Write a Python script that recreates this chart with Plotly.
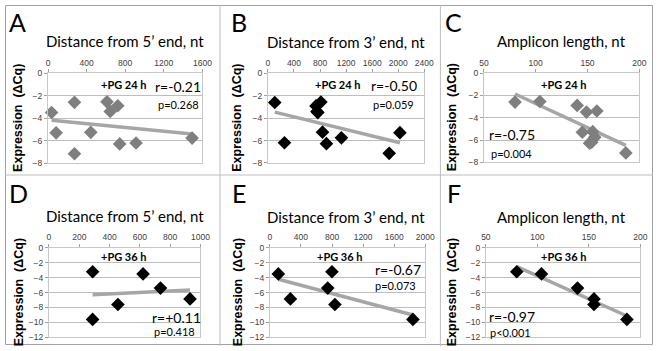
import numpy as np
import plotly.graph_objects as go

W, H = 663, 351

# ---- data ----
a_x = [37, 84, 274, 274, 443, 611, 645, 723, 743, 912, 1493]
a_y = [-3.5, -5.3, -2.6, -7.15, -5.25, -2.55, -3.4, -2.9, -6.28, -6.2, -5.76]
b_x = [105, 254, 738, 753, 765, 813, 838, 898, 1128, 1861, 2026]
b_y = [-2.6, -6.2, -2.9, -3.4, -3.5, -2.55, -5.25, -6.28, -5.76, -7.15, -5.3]
c_x = [80, 104, 140, 149, 159, 145, 152, 154, 157, 155, 187]
c_y = [-2.6, -2.55, -2.9, -3.5, -3.4, -5.3, -6.28, -6.2, -5.76, -5.25, -7.15]
d_x = [288, 288, 455, 621, 736, 931]
d_y = [-3.2, -9.6, -7.6, -3.5, -5.4, -6.85]
e_x = [109, 264, 745, 799, 837, 1841]
e_y = [-3.5, -6.85, -5.4, -3.2, -7.6, -9.6]
f_x = [80, 104, 139, 155, 155, 187]
f_y = [-3.2, -3.5, -5.4, -6.85, -7.6, -9.6]

letters = ["A", "B", "C", "D", "E", "F"]
titles = ["Distance from 5\u2019 end, nt", "Distance from 3\u2019 end, nt", "Amplicon length, nt",
          "Distance from 5\u2019 end, nt", "Distance from 3\u2019 end, nt", "Amplicon length, nt"]
groups = ["+PG 24 h", "+PG 24 h", "+PG 24 h", "+PG 36 h", "+PG 36 h", "+PG 36 h"]
r_text = ["r=-0.21", "r=-0.50", "r=-0.75", "r=+0.11", "r=-0.67", "r=-0.97"]
p_text = ["p=0.268", "p=0.059", "p=0.004", "p=0.418", "p=0.073", "p<0.001"]
x_ranges = [[0, 1600], [0, 2400], [50, 200], [0, 1000], [0, 2000], [50, 200]]
x_dticks = [400, 400, 50, 200, 400, 50]
y_ranges = [[-8, 0], [-8, 0], [-8, 0], [-12, 0], [-12, 0], [-12, 0]]
colors = ["#7f7f7f", "#000000", "#7f7f7f", "#000000", "#000000", "#000000"]

xs = [a_x, b_x, c_x, d_x, e_x, f_x]
ys = [a_y, b_y, c_y, d_y, e_y, f_y]

# ---- layout geometry (pixels) ----
plot_px = [  # x0, x1, y0(top), y1(bottom)
    (44, 202, 70, 163),
    (269, 429, 70.5, 162.5),
    (490, 649, 70, 162),
    (45, 200, 250, 342),
    (271, 430, 250, 342),
    (492, 650, 250, 342),
]
letter_pos = [(13, 17), (239, 17), (459, 17), (14, 193), (239, 193), (459, 193)]
title_pos = [(123, 37), (349, 38), (569, 37), (123, 217), (349, 218), (569, 218)]
ytitle_x = [13, 238, 457, 14, 238, 457]
group_pos = [(122, 82), (341, 82), (572, 82), (122, 259), (343, 259), (572, 259)]
r_pos = [(177, 84), (398, 83), (519, 133), (175, 322), (402, 272), (519, 321)]
p_pos = [(178, 102), (397, 102), (518, 153), (173, 336), (400, 289), (517, 337)]


def px(x):
    return x / W


def py(y):
    return 1 - y / H


fig = go.Figure()
layout = dict(width=W, height=H, margin=dict(l=0, r=0, t=0, b=0),
              paper_bgcolor="white", plot_bgcolor="white", showlegend=False)
annotations = []
TITLE_FONT = "Lato"
TICK_FONT = "Liberation Sans"


def ann(text, x, y, size, family=TITLE_FONT, angle=0, color="#000"):
    annotations.append(dict(text=text, x=px(x), y=py(y), xref="paper", yref="paper",
                            showarrow=False, textangle=angle,
                            font=dict(family=family, size=size, color=color),
                            xanchor="center", yanchor="middle"))


for i in range(6):
    n = "" if i == 0 else str(i + 1)
    xa, ya = "x" + n, "y" + n
    x0, x1, y0, y1 = plot_px[i]
    layout["xaxis" + n] = dict(
        domain=[px(x0), px(x1)], range=x_ranges[i], dtick=x_dticks[i], side="top",
        anchor=ya, showgrid=False, zeroline=False, showline=True, mirror=True,
        linecolor="#c8c8c8", linewidth=1, ticks="outside", ticklen=3, tickcolor="#a0a0a0",
        tickfont=dict(family=TICK_FONT, size=8.5, color="#404040"), fixedrange=True)
    layout["yaxis" + n] = dict(
        domain=[py(y1), py(y0)], range=y_ranges[i], dtick=2, anchor=xa,
        showgrid=True, gridcolor="#bdbdbd", gridwidth=1, zeroline=False,
        showline=True, mirror=True, linecolor="#c8c8c8", linewidth=1,
        ticks="outside", ticklen=3, tickcolor="#a0a0a0",
        tickfont=dict(family=TICK_FONT, size=8.5, color="#404040"), fixedrange=True)

    x = np.array(xs[i], dtype=float)
    y = np.array(ys[i], dtype=float)
    k, b = np.polyfit(x, y, 1)
    lx = np.array([x.min(), x.max()])
    fig.add_trace(go.Scatter(x=lx, y=k * lx + b, mode="lines", xaxis=xa, yaxis=ya,
                             line=dict(color="#a6a6a6", width=3.5), hoverinfo="skip"))
    fig.add_trace(go.Scatter(x=x, y=y, mode="markers", xaxis=xa, yaxis=ya,
                             marker=dict(symbol="diamond", size=10.5, color=colors[i],
                                         line=dict(width=0)), cliponaxis=False))

    ann(letters[i], *letter_pos[i], 25)
    ann(titles[i], *title_pos[i], 15)
    ann("<b>Expression  (\u0394Cq)</b>", ytitle_x[i], (y0 + y1) / 2, 12.5,
        family="Liberation Sans", angle=-90)
    ann("<b>" + groups[i] + "</b>", *group_pos[i], 11)
    ann(r_text[i], *r_pos[i], 14)
    ann(p_text[i], *p_pos[i], 11)

shapes = [
    dict(type="rect", xref="paper", yref="paper", x0=px(0.5), x1=px(662.5), y0=py(349.5), y1=py(0.5),
         line=dict(color="#a0a0a0", width=1)),
    dict(type="line", xref="paper", yref="paper", x0=px(220), x1=px(220), y0=py(0), y1=py(351),
         line=dict(color="#bdbdbd", width=1)),
    dict(type="line", xref="paper", yref="paper", x0=px(445.5), x1=px(445.5), y0=py(0), y1=py(351),
         line=dict(color="#bdbdbd", width=1)),
    dict(type="line", xref="paper", yref="paper", x0=px(0), x1=px(663), y0=py(175), y1=py(175),
         line=dict(color="#bdbdbd", width=1)),
]
layout["annotations"] = annotations
layout["shapes"] = shapes
fig.update_layout(**layout)
fig.write_html("out.html")
